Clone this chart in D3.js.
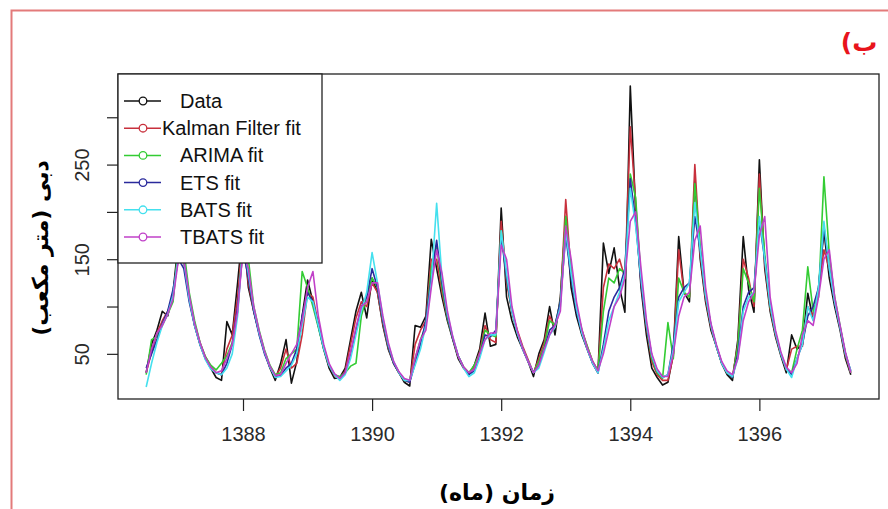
<!DOCTYPE html>
<html>
<head>
<meta charset="utf-8">
<script src="https://cdn.jsdelivr.net/npm/d3@7"></script>
<style>
  html, body { margin: 0; padding: 0; background: #fff; }
  svg text { font-family: "Liberation Sans", Arial, sans-serif; }
  .fa { font-family: "DejaVu Sans", sans-serif; font-weight: bold; }
</style>
</head>
<body>
<div id="chart"></div>
<script>
// monthly series, start = 1386 month 7, frequency 12
const startYear = 1386, startMonth = 7, freq = 12;

const dataObs = [30,60,75,95,90,115,
  170,150,108,80,60,45,35,25,22,84,70,125,
  185,120,95,72,52,35,22,40,65,19,42,90,
  128,105,80,55,35,24,25,35,65,95,115,88,
  130,115,80,55,40,30,20,16,80,78,90,171,
  140,110,85,65,45,35,28,38,55,93,58,60,
  204,110,85,68,55,42,26,50,65,100,70,110,
  195,120,90,70,55,40,30,167,135,162,120,94,
  333,200,120,70,35,25,17,20,50,174,115,105,
  235,150,105,75,58,40,28,22,65,174,118,94,
  255,140,95,68,48,30,70,55,60,114,86,120,
  180,130,100,75,45,28];

const kalmanFit = [30,52,72,85,95,110,
  160,145,110,82,62,47,37,30,28,55,70,110,
  175,125,95,72,52,37,26,35,55,35,40,70,
  115,110,82,58,38,27,24,32,60,88,105,100,
  125,115,82,57,40,30,22,20,60,75,85,150,
  150,115,88,66,47,36,30,36,52,80,65,62,
  190,125,95,75,58,44,30,45,62,90,78,105,
  213,135,98,75,58,42,32,120,145,140,150,130,
  290,210,125,78,42,28,22,22,48,160,114,110,
  250,155,108,78,58,40,30,26,60,150,130,100,
  240,145,98,70,50,33,55,58,58,100,90,115,
  160,140,105,78,48,30];

const arimaFit = [28,65,68,80,92,105,
  165,160,115,85,62,47,38,33,40,48,62,95,
  170,150,100,75,54,38,28,30,45,50,55,137,
  120,100,78,55,38,28,26,30,37,40,90,110,
  130,120,85,58,40,30,22,22,45,65,80,140,
  165,120,88,66,48,36,30,38,50,75,70,68,
  180,130,95,72,56,42,30,42,58,85,80,105,
  195,140,100,75,58,42,32,95,130,125,140,135,
  240,215,130,80,45,30,24,83,45,130,115,110,
  230,165,112,80,58,40,30,25,58,140,125,105,
  225,155,100,72,50,34,30,55,75,142,95,110,
  237,155,110,80,50,30];

const etsFit = [35,50,65,82,95,118,
  150,140,105,80,60,45,35,30,28,40,60,100,
  160,130,95,70,50,36,26,27,35,40,55,90,
  115,105,80,56,38,28,24,30,50,75,100,110,
  140,120,85,58,40,30,22,20,40,60,85,130,
  170,125,90,66,48,36,28,32,48,70,68,75,
  175,130,95,72,55,42,30,38,55,75,80,105,
  175,130,95,72,55,40,30,60,95,110,120,140,
  235,190,125,80,48,32,25,28,60,110,120,125,
  195,160,112,80,58,40,30,25,50,100,115,120,
  190,150,102,72,50,34,28,45,60,90,100,120,
  185,140,105,78,50,32];

const batsFit = [15,40,62,80,92,112,
  155,148,108,80,60,44,34,30,28,35,50,90,
  170,135,98,72,52,36,25,26,32,38,50,80,
  110,105,80,56,38,28,22,28,45,70,95,115,
  157,125,88,60,42,30,22,22,38,55,80,125,
  209,130,92,68,48,35,26,30,45,65,70,70,
  180,135,95,72,55,42,30,35,52,70,78,100,
  180,135,98,72,55,40,30,55,85,100,115,135,
  225,185,130,82,48,32,25,28,55,105,115,125,
  210,160,112,80,58,40,30,26,45,95,110,115,
  195,150,102,72,50,34,25,45,60,100,85,120,
  190,140,105,78,50,32];

const tbatsFit = [30,55,72,80,92,108,
  150,150,112,82,62,46,36,30,32,45,60,95,
  160,140,100,74,53,37,27,28,40,50,60,85,
  120,137,90,60,40,29,24,30,52,78,100,105,
  125,125,90,62,42,31,24,22,45,65,75,120,
  160,135,95,68,48,36,30,34,50,65,72,72,
  165,150,100,74,56,42,30,38,55,70,80,95,
  185,150,105,76,56,42,32,50,75,100,110,130,
  190,200,140,86,50,34,26,26,50,90,110,115,
  170,185,120,82,60,42,32,28,45,85,105,115,
  175,195,110,75,52,36,30,40,70,85,80,110,
  150,160,110,80,52,30];

const seriesNames = ["Data", "Kalman Filter fit", "ARIMA fit", "ETS fit", "BATS fit", "TBATS fit"];
const seriesColors = ["#111111", "#c8303c", "#33cc33", "#2a2a9c", "#44e0ee", "#c040c8"];
const seriesValues = [dataObs, kalmanFit, arimaFit, etsFit, batsFit, tbatsFit];

const xTicks = [1388, 1390, 1392, 1394, 1396];
const yTicks = [50, 100, 150, 200, 250, 300];
const yTickLabels = [50, 150, 250];

const width = 888, height = 509;
const plot = { left: 118, top: 74, right: 879, bottom: 399 };

const svg = d3.select("#chart").append("svg")
    .attr("width", width)
    .attr("height", height);

// outer red frame of the figure
svg.append("rect")
    .attr("x", 11.5).attr("y", 10.5)
    .attr("width", 900).attr("height", 600)
    .attr("fill", "none")
    .attr("stroke", "#e37a7a")
    .attr("stroke-width", 2);

const timeOf = i => startYear + (startMonth - 1) / freq + i / freq;
const n = dataObs.length;

// R style axis ranges: 4% padding on each side
const tExt = [timeOf(0), timeOf(n - 1)];
const tPad = (tExt[1] - tExt[0]) * 0.04;
const allVals = seriesValues.flat();
const vExt = d3.extent(allVals);
const vPad = (vExt[1] - vExt[0]) * 0.04;

const x = d3.scaleLinear()
    .domain([tExt[0] - tPad, tExt[1] + tPad])
    .range([plot.left, plot.right]);

const y = d3.scaleLinear()
    .domain([vExt[0] - vPad, vExt[1] + vPad])
    .range([plot.bottom, plot.top]);

// series lines
const line = d3.line()
    .x((d, i) => x(timeOf(i)))
    .y(d => y(d));

svg.append("g")
    .selectAll("path")
    .data(seriesValues)
    .enter().append("path")
    .attr("d", d => line(d))
    .attr("fill", "none")
    .attr("stroke", (d, i) => seriesColors[i])
    .attr("stroke-width", 1.6)
    .attr("stroke-linejoin", "round");

// axes
const xAxis = svg.append("g")
    .attr("transform", `translate(0,${plot.bottom})`)
    .call(d3.axisBottom(x).tickValues(xTicks).tickSize(12).tickPadding(16).tickFormat(d3.format("d")));

const yAxis = svg.append("g")
    .attr("transform", `translate(${plot.left},0)`)
    .call(d3.axisLeft(y).tickValues(yTicks).tickSize(11)
        .tickFormat(d => yTickLabels.includes(d) ? d : ""));

[xAxis, yAxis].forEach(g => {
    g.select(".domain").remove();
    g.selectAll(".tick line").attr("stroke", "#222").attr("stroke-width", 1.2);
    g.selectAll(".tick text")
        .attr("fill", "#2a2a2a")
        .style("font-size", "20px")
        .style("font-family", "'Liberation Sans', Arial, sans-serif");
});

yAxis.selectAll(".tick text")
    .attr("x", null).attr("dy", null)
    .attr("text-anchor", "middle")
    .attr("transform", "translate(-29,0) rotate(-90)");

// plot box
svg.append("rect")
    .attr("x", plot.left).attr("y", plot.top)
    .attr("width", plot.right - plot.left)
    .attr("height", plot.bottom - plot.top)
    .attr("fill", "none")
    .attr("stroke", "#222")
    .attr("stroke-width", 1.3);

// legend
const legend = svg.append("g").attr("transform", `translate(${plot.left},${plot.top})`);

legend.append("rect")
    .attr("width", 204).attr("height", 189)
    .attr("fill", "#fff")
    .attr("stroke", "#222")
    .attr("stroke-width", 1.3);

const item = legend.selectAll(".item")
    .data(seriesNames)
    .enter().append("g")
    .attr("transform", (d, i) => `translate(0,${27 + i * 27.2})`);

item.append("line")
    .attr("x1", 6).attr("x2", 43)
    .attr("stroke", (d, i) => seriesColors[i])
    .attr("stroke-width", 1.5);

item.append("circle")
    .attr("cx", 25).attr("r", 3.8)
    .attr("fill", "#fff")
    .attr("stroke", (d, i) => seriesColors[i])
    .attr("stroke-width", 1.3);

item.append("text")
    .attr("x", (d, i) => i === 1 ? 44 : 62)
    .attr("y", 7)
    .style("font-size", "20px")
    .attr("fill", "#111")
    .text(d => d);

// titles
svg.append("text")
    .attr("class", "fa")
    .attr("x", 859).attr("y", 51)
    .attr("text-anchor", "middle")
    .attr("direction", "rtl")
    .attr("fill", "#e8141c")
    .style("font-size", "25px")
    .text("ب)");

svg.append("text")
    .attr("class", "fa")
    .attr("x", 497).attr("y", 500)
    .attr("text-anchor", "middle")
    .attr("direction", "rtl")
    .attr("fill", "#000")
    .style("font-size", "22px")
    .text("زمان (ماه)");

svg.append("text")
    .attr("class", "fa")
    .attr("transform", "translate(48,248) rotate(-90)")
    .attr("text-anchor", "middle")
    .attr("direction", "rtl")
    .attr("fill", "#000")
    .style("font-size", "22px")
    .text("دبی (متر مکعب)");
</script>
</body>
</html>
